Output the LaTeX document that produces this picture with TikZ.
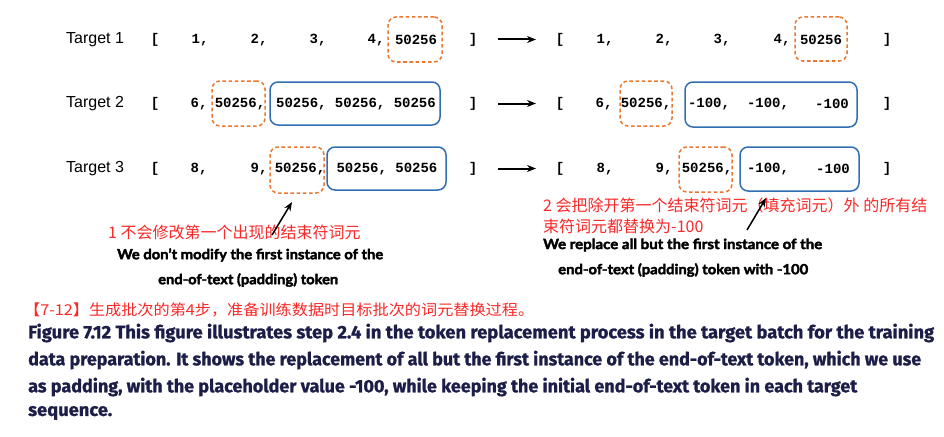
\documentclass[tikz,border=0pt]{standalone}
\usepackage{fontspec}
\usepackage{graphicx}
\usetikzlibrary{arrows.meta}
\setmainfont{Liberation Sans}
\newfontfamily\monof{Liberation Mono}
\newfontfamily\cjk{Noto Sans CJK SC}
\newfontfamily\annf[BoldFeatures={FakeBold=2.5}]{Lato}
\newfontfamily\capf[BoldFeatures={FakeBold=1}]{Fira Sans}
\definecolor{orangec}{RGB}{232,120,50}
\definecolor{bluec}{RGB}{50,110,180}
\definecolor{redc}{RGB}{250,40,40}
\definecolor{capc}{RGB}{28,30,72}
\newsavebox\fitbox
\newcommand\fitto[2]{\sbox\fitbox{#2}\pgfmathsetmacro\fitr{#1/\the\wd\fitbox}\scalebox{\fitr}[1]{\usebox\fitbox}}
\tikzset{
  num/.style={font=\monof\bfseries\fontsize{14}{16}\selectfont, inner sep=0pt, anchor=center},
  tgt/.style={font=\fontsize{16}{18}\selectfont, inner sep=0pt, anchor=west},
  obox/.style={draw=orangec, line width=1.5pt, rounded corners=8pt, dash pattern=on 3.6pt off 2.6pt, inner sep=0pt},
  bbox/.style={draw=bluec, line width=1.5pt, rounded corners=8pt, inner sep=0pt},
  redt/.style={font=\cjk\fontsize{16}{18}\selectfont, text=redc, inner sep=0pt, anchor=west},
  annt/.style={font=\annf\bfseries\fontsize{14}{16}\selectfont, inner sep=0pt, anchor=west},
  capt/.style={font=\capf\bfseries\fontsize{18}{20}\selectfont, text=capc, inner sep=0pt, anchor=west},
  arr/.style={-{Stealth[length=9pt,width=7pt]}, line width=2pt},
}
\begin{document}
\begin{tikzpicture}[x=1pt,y=-1pt]
\path[use as bounding box, fill=white] (0,0) rectangle (944,436);
% boxes
\node[obox, minimum width=54, minimum height=45] (o1L) at (415,39.5) {};
\node[obox, minimum width=52, minimum height=44] (o1R) at (821,39) {};
\node[obox, minimum width=53, minimum height=45] (o2L) at (238.5,103.5) {};
\node[bbox, minimum width=170, minimum height=43] (b2L) at (355,103.5) {};
\node[obox, minimum width=52, minimum height=45] (o2R) at (646,103.5) {};
\node[bbox, minimum width=172, minimum height=45] (b2R) at (771,104.5) {};
\node[obox, minimum width=54, minimum height=46] (o3L) at (297,170) {};
\node[bbox, minimum width=119, minimum height=43] (b3L) at (386.5,168.5) {};
\node[obox, minimum width=53, minimum height=45] (o3R) at (705.5,169.5) {};
\node[bbox, minimum width=119, minimum height=44] (b3R) at (799.5,169) {};
% labels
\node[tgt] (t1) at (66,40) {Target 1};
\node[tgt] (t2) at (66,104) {Target 2};
\node[tgt] (t3) at (66,169) {Target 3};
% row 1
\node[num] (l1a) at (155,40) {[};
\node[num] (n11) at (200,40) {1,};
\node[num] (n12) at (259,40) {2,};
\node[num] (n13) at (318,40) {3,};
\node[num] (n14) at (376,40) {4,};
\node[num] (n15) at (416,40) {50256};
\node[num] (r1a) at (473,40) {]};
\node[num] (l1b) at (560,40) {[};
\node[num] (m11) at (605,40) {1,};
\node[num] (m12) at (664,40) {2,};
\node[num] (m13) at (722,40) {3,};
\node[num] (m14) at (782,40) {4,};
\node[num] (m15) at (821,40) {50256};
\node[num] (r1b) at (887,40) {]};
% row 2
\node[num] (l2a) at (155,104) {[};
\node[num] (n21) at (199,104) {6,};
\node[num] (n22) at (240,104) {50256,};
\node[num] (n23) at (356,104) {50256, 50256, 50256};
\node[num] (r2a) at (473,104) {]};
\node[num] (l2b) at (560,104) {[};
\node[num] (m21) at (604,104) {6,};
\node[num] (m22) at (646,104) {50256,};
\node[num] (m23) at (709,104) {-100,};
\node[num] (m24) at (768,104) {-100,};
\node[num] (m25) at (832,104) {-100};
\node[num] (r2b) at (887,104) {]};
% row 3
\node[num] (l3a) at (155,169) {[};
\node[num] (n31) at (199,169) {8,};
\node[num] (n32) at (259,169) {9,};
\node[num] (n33) at (300,169) {50256,};
\node[num] (n34) at (387,169) {50256, 50256};
\node[num] (r3a) at (473,169) {]};
\node[num] (l3b) at (560,169) {[};
\node[num] (m31) at (605,169) {8,};
\node[num] (m32) at (664,169) {9,};
\node[num] (m33) at (707,169) {50256,};
\node[num] (m34) at (768,169) {-100,};
\node[num] (m35) at (833,169) {-100};
\node[num] (r3b) at (887,169) {]};
% middle arrows
\coordinate (a1s) at (498,39.5); \coordinate (a1e) at (536,39.5);
\coordinate (a2s) at (498,103.5); \coordinate (a2e) at (536,103.5);
\coordinate (a3s) at (498,168.5); \coordinate (a3e) at (536,168.5);
\draw[arr] (a1s) -- (a1e);
\draw[arr] (a2s) -- (a2e);
\draw[arr] (a3s) -- (a3e);
% annotations
\node[redt] (c1) at (108,232) {1 不会修改第一个出现的结束符词元};
\node[annt] (e1) at (117,255) {\fitto{266}{We don’t modify the first instance of the}};
\node[annt] (e2) at (158,280) {\fitto{180}{end-of-text (padding) token}};
\node[redt] (c2) at (543,205) {2 会把除开第一个结束符词元（填充词元）外 的所有结};
\node[redt] (c3) at (543,226) {束符词元都替换为-100};
\node[annt] (e3) at (543,245) {\fitto{279}{We replace all but the first instance of the}};
\node[annt] (e4) at (558,270) {\fitto{250}{end-of-text (padding) token with -100}};
\coordinate (p1s) at (272,235); \coordinate (p1e) at (292,202);
\coordinate (p2s) at (747,230); \coordinate (p2e) at (766,198);
\draw[arr, line width=1.5pt] (p1s) -- (p1e);
\draw[arr, line width=1.5pt] (p2s) -- (p2e);
% caption
\node[redt, font=\cjk\fontsize{15}{17}\selectfont] (cap0) at (24,310) {\fitto{510}{【7-12】生成批次的第4步，准备训练数据时目标批次的词元替换过程。}};
\node[capt] (cap1) at (28,333) {\fitto{906}{Figure 7.12 This figure illustrates step 2.4 in the token replacement process in the target batch for the training}};
\node[capt] (cap2) at (28,360) {\fitto{893}{data preparation. It shows the replacement of all but the first instance of the end-of-text token, which we use}};
\node[capt] (cap3) at (28,387) {\fitto{829}{as padding, with the placeholder value -100, while keeping the initial end-of-text token in each target}};
\node[capt] (cap4) at (28,413) {\fitto{84}{sequence.}};
\end{tikzpicture}
\end{document}
